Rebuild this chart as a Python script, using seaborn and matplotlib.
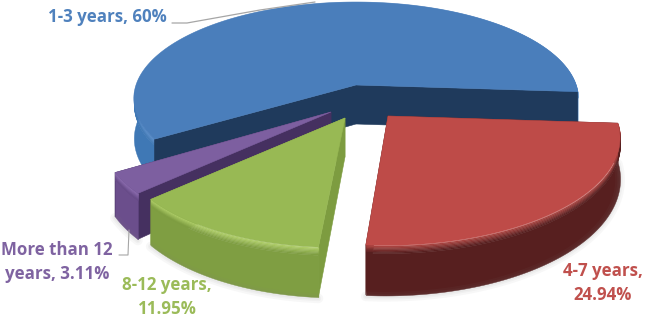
import numpy as np
import matplotlib
matplotlib.use('Agg')
import matplotlib.pyplot as plt
from matplotlib.collections import PolyCollection
import seaborn as sns

# values, in drawing order (counterclockwise from the right edge of blue)
categories = ['1-3 years', 'More than 12 years', '8-12 years', '4-7 years']
shares = [60, 3.11, 11.95, 24.94]
label_lines = [['1-3 years, 60%'], ['More than 12', 'years, 3.11%'], ['8-12 years,', '11.95%'], ['4-7 years,', '24.94%']]

top_colors = ['#4a7ebb', '#7d5fa0', '#98b954', '#be4b48']
rim_colors = ['#5a8ecb', '#8f70b3', '#aecd68', '#a84340']
outer_colors = ['#3f78b5', '#6b4e8c', '#7f9e42', '#571f1f']
cut_colors = ['#1f3a5c', '#453060', '#7d9c40', '#571f1f']
text_colors = ['#4f81bd', '#7f63a1', '#9bbb59', '#c0504d']

# layout of every slice after the explosion, pixels
apex_x = [356, 331, 345, 388]
apex_y = [85, 112, 118, 116]
radius_x = [220, 225, 220, 227]
radius_y = [94.6, 101, 101, 101]
persp = [0.14, 0.22, 0.22, 0.22]
lean = [0, 0, -8, -3]
label_x = [107, 57, 167, 603]
label_y = [17, 250, 285, 271]

start_angle = -4
depth = 39
bevel = 6

sns.set_theme(style='white')
plt.rcParams['font.family'] = ['Open Sans', 'DejaVu Sans']


def project(theta, r, i, d=0):
    u = r * np.cos(np.radians(theta))
    v = r * np.sin(np.radians(theta))
    w = 1 + persp[i] * v
    return apex_x[i] + radius_x[i] * u / w - lean[i] * v, apex_y[i] - radius_y[i] * v / w + d / w


def arc(t1, t2, i, d=0):
    thetas = np.linspace(t1, t2, 160)
    return project(thetas, 1, i, d)


def quad_face(ax, theta, i):
    xe, ye = project(theta, 1, i)
    xb, yb = project(theta, 1, i, depth)
    xa, ya = project(theta, 0, i)
    xc, yc = project(theta, 0, i, depth)
    ax.fill([xa, xe, xb, xc], [ya, ye, yb, yc], color=cut_colors[i], lw=0.4)


def outer_side(ax, t1, t2, i):
    # vertical ramp: bevel from the rim colour into the side colour
    ramp = sns.blend_palette([rim_colors[i], outer_colors[i]], bevel) + [outer_colors[i]]
    steps = list(np.arange(bevel + 1)) + [depth]
    for j in range(len(steps) - 1):
        x0, y0 = arc(t1, t2, i, steps[j])
        x1, y1 = arc(t1, t2, i, steps[j + 1])
        verts = [np.column_stack([np.r_[x0, x1[::-1]], np.r_[y0, y1[::-1]]])]
        ax.add_collection(PolyCollection(verts, facecolors=[ramp[j]], edgecolors='face', linewidths=0.3))


fig = plt.figure(figsize=(6.45, 3.19), dpi=100)
ax = fig.add_axes([0, 0, 1, 1])
ax.set_xlim(0, 645)
ax.set_ylim(319, 0)
ax.axis('off')

ends = start_angle + np.cumsum(shares) * 3.6
starts = ends - np.array(shares) * 3.6

# soft shadow under the slices
for i in range(1, 4):
    xs, ys = arc(starts[i], ends[i], i, depth + 1)
    for lw in [2, 4, 7]:
        ax.plot(xs, ys, color='#808080', alpha=0.06, lw=lw, solid_capstyle='round')

for i in range(len(shares)):
    t1, t2 = starts[i], ends[i]
    reflex = shares[i] > 50
    if not reflex:
        quad_face(ax, t1, i)
        quad_face(ax, t2, i)
    outer_side(ax, t1, t2, i)
    if reflex:
        quad_face(ax, t1, i)
        quad_face(ax, t2, i)
    xs, ys = arc(t1, t2, i)
    ax.fill(np.r_[apex_x[i], xs], np.r_[apex_y[i], ys], color=top_colors[i], lw=0.4)

# leader lines
ax.plot([172, 187, 260, 315], [23, 23, 10, 2], color='#a6a6a6', lw=0.9)
ax.plot([119, 128, 129], [255, 255, 230], color='#a6a6a6', lw=0.8)

for i in range(len(shares)):
    for n, line in enumerate(label_lines[i]):
        ax.text(label_x[i], label_y[i] + n * 24, line, color=text_colors[i], fontsize=12.2,
                fontweight='bold', ha='center', va='center')

fig.savefig('out.png', dpi=100)
